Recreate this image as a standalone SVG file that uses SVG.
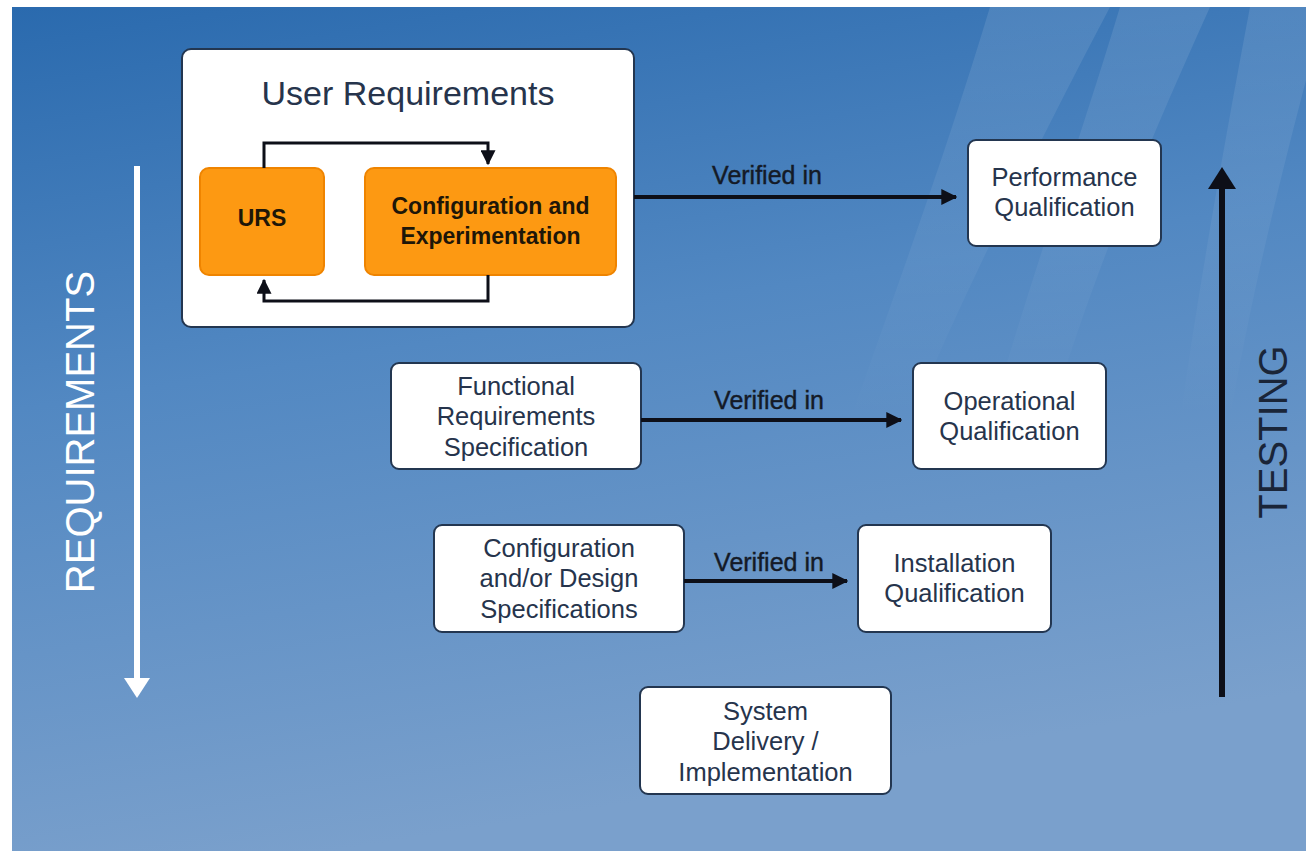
<svg xmlns="http://www.w3.org/2000/svg" width="1306" height="851" viewBox="0 0 1306 851">
<defs>
<linearGradient id="bg" x1="0" y1="0" x2="0.25" y2="1">
<stop offset="0" stop-color="#2a6aae"/>
<stop offset="0.45" stop-color="#5288c2"/>
<stop offset="1" stop-color="#7aa0cc"/>
</linearGradient>
<linearGradient id="sw" gradientUnits="userSpaceOnUse" x1="0" y1="7" x2="0" y2="420">
<stop offset="0" stop-color="#ffffff" stop-opacity="0.10"/>
<stop offset="0.6" stop-color="#ffffff" stop-opacity="0.05"/>
<stop offset="1" stop-color="#ffffff" stop-opacity="0"/>
</linearGradient>
<marker id="ah" viewBox="0 0 12 12" refX="11" refY="6" markerWidth="16" markerHeight="16" markerUnits="userSpaceOnUse" orient="auto">
<path d="M0,0 L12,6 L0,12 Z" fill="#0d0f18"/>
</marker>
<marker id="ahs" viewBox="0 0 12 12" refX="11" refY="6" markerWidth="15" markerHeight="15" markerUnits="userSpaceOnUse" orient="auto">
<path d="M0,0 L12,6 L0,12 Z" fill="#0d0f18"/>
</marker>
</defs>
<style>
.box{fill:#ffffff;stroke:#233650;stroke-width:2}
.org{fill:#fd9912;stroke:#ef8400;stroke-width:2}
.t{font-family:"Liberation Sans",Arial,sans-serif;font-size:25.5px;fill:#26344c;text-anchor:middle}
.ot{font-family:"Liberation Sans",Arial,sans-serif;font-size:23px;font-weight:bold;fill:#1e1608;text-anchor:middle}
.ttl{font-family:"Liberation Sans",Arial,sans-serif;font-size:34px;fill:#26344c;text-anchor:middle}
.lbl{font-family:"Liberation Sans",Arial,sans-serif;font-size:25px;fill:#141a26;text-anchor:middle;stroke:#141a26;stroke-width:0.4}
.side{font-family:"Liberation Sans",Arial,sans-serif;font-size:40px;text-anchor:middle}
.ln{fill:none;stroke:#0d0f18;stroke-width:4}
.lp{fill:none;stroke:#0d0f18;stroke-width:3}
</style>
<rect x="0" y="0" width="1306" height="851" fill="#ffffff"/>
<rect x="12" y="7" width="1294" height="844" fill="url(#bg)"/>
<g id="swoosh" fill="url(#sw)">
<path d="M990,7 L1110,7 C1040,140 970,280 910,420 L850,420 C900,280 950,140 990,7 Z"/>
<path d="M1120,7 L1210,7 C1150,140 1090,280 1050,420 L990,420 C1030,280 1080,140 1120,7 Z"/>
<path d="M1250,7 L1306,7 L1306,80 C1280,180 1250,300 1230,420 L1180,420 C1200,280 1225,140 1250,7 Z"/>
</g>
<g id="requirements-axis">
<line x1="137" y1="166" x2="137" y2="680" stroke="#ffffff" stroke-width="6"/>
<polygon points="124,678 150,678 137,698" fill="#ffffff"/>
<text class="side" fill="#ffffff" transform="translate(94,432) rotate(-90)">REQUIREMENTS</text>
</g>
<g id="testing-axis">
<line x1="1222" y1="697" x2="1222" y2="186" stroke="#0d0f18" stroke-width="6"/>
<polygon points="1208,189 1236,189 1222,167" fill="#0d0f18"/>
<text class="side" fill="#1a2538" transform="translate(1287,432) rotate(-90)">TESTING</text>
</g>
<g id="user-requirements">
<rect class="box" x="182" y="49" width="452" height="278" rx="9"/>
<text class="ttl" x="408" y="105">User Requirements</text>
</g>
<g id="urs">
<rect class="org" x="200" y="168" width="124" height="107" rx="9"/>
<text class="ot" x="262" y="226">URS</text>
</g>
<g id="config-exp">
<rect class="org" x="365" y="168" width="251" height="107" rx="9"/>
<text class="ot" x="490.5" y="214">Configuration and</text>
<text class="ot" x="490.5" y="244">Experimentation</text>
</g>
<g id="pq">
<rect class="box" x="968" y="140" width="193" height="106" rx="8"/>
<text class="t" x="1064.5" y="186">Performance</text>
<text class="t" x="1064.5" y="216">Qualification</text>
</g>
<g id="frs">
<rect class="box" x="391" y="363" width="250" height="106" rx="8"/>
<text class="t" x="516" y="395">Functional</text>
<text class="t" x="516" y="425">Requirements</text>
<text class="t" x="516" y="456">Specification</text>
</g>
<g id="oq">
<rect class="box" x="913" y="363" width="193" height="106" rx="8"/>
<text class="t" x="1009.5" y="410">Operational</text>
<text class="t" x="1009.5" y="440">Qualification</text>
</g>
<g id="cds">
<rect class="box" x="434" y="525" width="250" height="107" rx="8"/>
<text class="t" x="559" y="557">Configuration</text>
<text class="t" x="559" y="587">and/or Design</text>
<text class="t" x="559" y="618">Specifications</text>
</g>
<g id="iq">
<rect class="box" x="858" y="525" width="193" height="107" rx="8"/>
<text class="t" x="954.5" y="572">Installation</text>
<text class="t" x="954.5" y="602">Qualification</text>
</g>
<g id="sdi">
<rect class="box" x="640" y="687" width="251" height="107" rx="8"/>
<text class="t" x="765.5" y="720">System</text>
<text class="t" x="765.5" y="750">Delivery /</text>
<text class="t" x="765.5" y="781">Implementation</text>
</g>
<g id="connectors">
<polyline class="lp" points="264,168 264,143 488,143 488,164" marker-end="url(#ahs)"/>
<polyline class="lp" points="488,275 488,301 264,301 264,280" marker-end="url(#ahs)"/>
<line class="ln" x1="634" y1="197" x2="956" y2="197" marker-end="url(#ah)"/>
<text class="lbl" x="767" y="184">Verified in</text>
<line class="ln" x1="641" y1="420" x2="901" y2="420" marker-end="url(#ah)"/>
<text class="lbl" x="769" y="409">Verified in</text>
<line class="ln" x1="684" y1="581" x2="847" y2="581" marker-end="url(#ah)"/>
<text class="lbl" x="769" y="571">Verified in</text>
</g>
</svg>
